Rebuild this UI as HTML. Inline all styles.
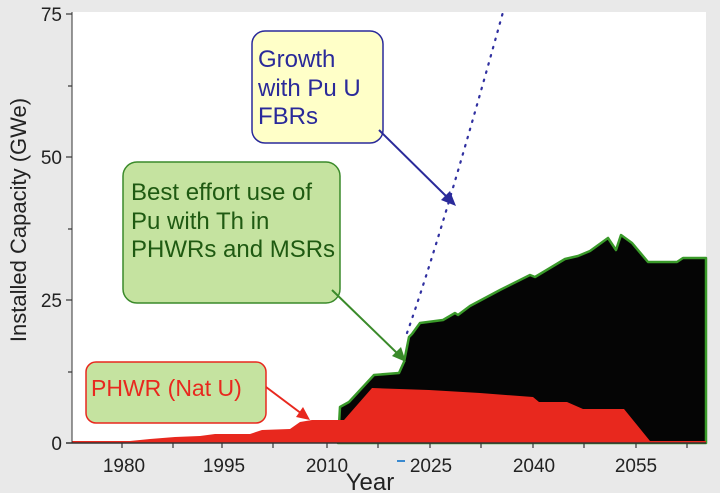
<!DOCTYPE html>
<html><head><style>
body{margin:0;background:#e9e9e9;}
svg{display:block;}
text{font-family:"Liberation Sans Narrow","Liberation Sans",sans-serif;}
</style></head><body>
<svg width="720" height="493" viewBox="0 0 720 493">
<rect width="720" height="493" fill="#e9e9e9"/>
<rect x="72" y="12" width="634" height="431" fill="#fff"/>
<polygon fill="#050505" stroke="#3a9a2a" stroke-width="2.5" stroke-linejoin="round" points="338,443 340,407 349,402 374,375 399,373 404,362 409,337 412,334 420,323 443,320 455,313 458,315 470,306 500,290 530,275 535,277 565,259 578,256 590,251 608,238 616,250 621,235 632,243 648,262 677,262 683,258 706,258 706,443"/>
<polygon fill="#e8281e" points="72,443 72,441 130,441 150,439 175,437 200,436 215,434 250,434 262,430 290,429 300,422 312,420 344,420 372,388 429,390 480,393 533,397 539,402 567,402 583,409 624,409 650,441 706,441 706,443"/>
<path d="M407,333 Q440,240 503,12" fill="none" stroke="#3030a0" stroke-width="2.2" stroke-dasharray="1.5 7" stroke-linecap="round"/>
<line x1="66" y1="443" x2="706" y2="443" stroke="#333" stroke-width="1.5"/>
<line x1="72" y1="12" x2="72" y2="443" stroke="#333" stroke-width="1"/>
<g stroke="#333" stroke-width="1.2">
<line x1="66" y1="300" x2="72" y2="300"/><line x1="66" y1="157" x2="72" y2="157"/><line x1="66" y1="14" x2="72" y2="14"/>
<line x1="68" y1="86" x2="72" y2="86"/><line x1="68" y1="229" x2="72" y2="229"/><line x1="68" y1="372" x2="72" y2="372"/>
<line x1="122" y1="443" x2="122" y2="448"/><line x1="173" y1="443" x2="173" y2="448"/><line x1="222" y1="443" x2="222" y2="448"/><line x1="273" y1="443" x2="273" y2="448"/><line x1="327" y1="443" x2="327" y2="448"/><line x1="378" y1="443" x2="378" y2="448"/><line x1="430" y1="443" x2="430" y2="448"/><line x1="481" y1="443" x2="481" y2="448"/><line x1="533" y1="443" x2="533" y2="448"/><line x1="584" y1="443" x2="584" y2="448"/><line x1="636" y1="443" x2="636" y2="448"/><line x1="687" y1="443" x2="687" y2="448"/>
</g>
<g font-size="19" fill="#222" text-anchor="end">
<text x="62" y="450">0</text><text x="62" y="307">25</text><text x="62" y="164">50</text><text x="62" y="21">75</text>
</g>
<g font-size="19" fill="#222" text-anchor="middle">
<text x="124" y="472">1980</text><text x="224" y="472">1995</text><text x="327" y="472">2010</text><text x="431" y="472">2025</text><text x="534" y="472">2040</text><text x="636" y="472">2055</text>
</g>
<line x1="397" y1="461" x2="405" y2="461" stroke="#3a8ad0" stroke-width="2"/>
<text x="370" y="490" font-size="24" fill="#222" text-anchor="middle">Year</text>
<text transform="translate(26,220) rotate(-90)" font-size="22" fill="#222" text-anchor="middle">Installed Capacity (GWe)</text>
<rect x="252" y="31" width="131" height="112" rx="13" fill="#ffffc8" stroke="#2a2a9a" stroke-width="1.5"/>
<g font-size="24" fill="#2a2a9a"><text x="258" y="67">Growth</text><text x="258" y="96">with Pu U</text><text x="258" y="124">FBRs</text></g>
<line x1="379" y1="130" x2="448" y2="198" stroke="#2a2a9a" stroke-width="2"/>
<polygon points="456,206 441,200 450,191" fill="#2a2a9a"/>
<rect x="123" y="162" width="217" height="141" rx="14" fill="#c5e3a0" stroke="#3a8a2a" stroke-width="1.5"/>
<g font-size="24" fill="#1f5a12"><text x="131" y="200">Best effort use of</text><text x="131" y="229">Pu with Th in</text><text x="131" y="257">PHWRs and MSRs</text></g>
<line x1="332" y1="290" x2="399" y2="355" stroke="#3a8a2a" stroke-width="2"/>
<polygon points="406,362 392,356 401,347" fill="#3a8a2a"/>
<rect x="86" y="362" width="180" height="61" rx="10" fill="#c5e3a0" stroke="#e8281e" stroke-width="1.5"/>
<text x="91" y="396" font-size="23" fill="#e8281e">PHWR (Nat U)</text>
<line x1="266" y1="387" x2="302" y2="414" stroke="#e8281e" stroke-width="2"/>
<polygon points="310,420 296,417 303,407" fill="#e8281e"/>
</svg>
</body></html>
